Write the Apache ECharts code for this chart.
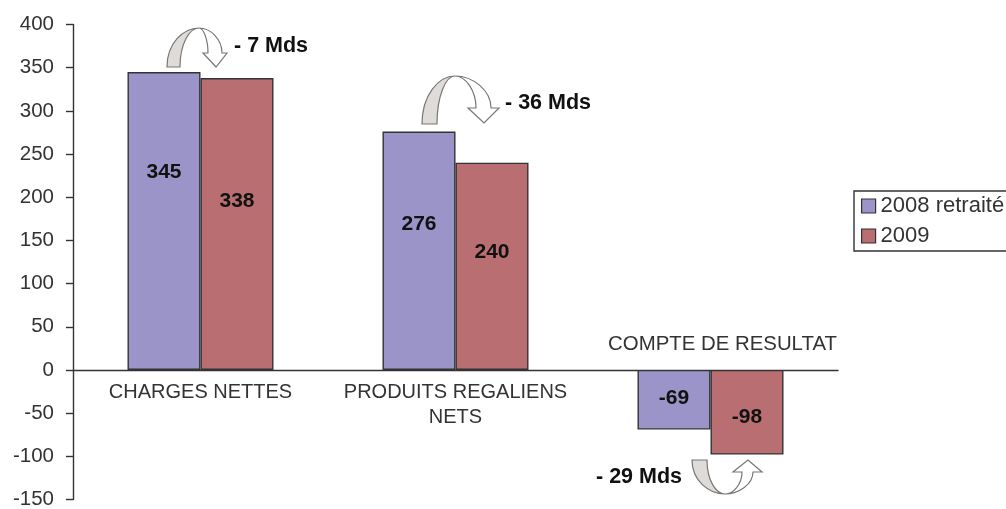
<!DOCTYPE html>
<html>
<head>
<meta charset="utf-8">
<style>html,body{margin:0;padding:0;background:#fff;overflow:hidden}#c{width:1006px;height:509px}</style>
<script src="https://cdn.jsdelivr.net/npm/echarts@6/dist/echarts.min.js"></script>
</head>
<body>
<div id="c"></div>
<script>
// Budget balance by heading, in billions of euros
const categories = ['CHARGES NETTES', 'PRODUITS REGALIENS\nNETS', 'COMPTE DE RESULTAT'];
const seriesNames = ['2008 retraité', '2009'];
const values2008 = [345, 276, -69];
const values2009 = [338, 240, -98];
const deltaTexts = ['- 7 Mds', '- 36 Mds', '- 29 Mds'];

// Hand-placed value labels: vertical shift from the centre of each bar
const labelShift2008 = [-49, -27, -2];
const labelShift2009 = [-23, -14, 5];

const FONT = '"Liberation Sans", Arial, sans-serif';
const TEXT = '#333';
const EDGE = '#333';

const AXIS_MIN = -150;
const AXIS_MAX = 400;
const PLOT_HEIGHT = 475;
// Category labels are laid out from the foot of the plot; this lifts them up to the zero line
const ZERO_LIFT = PLOT_HEIGHT * (0 - AXIS_MIN) / (AXIS_MAX - AXIS_MIN);

// Curved arrow between two bars: a white band ending in a head
echarts.graphic.registerShape('arrowHeadBand', echarts.graphic.extendShape({
  shape: { a: null },
  buildPath(ctx, shape) {
    const a = shape.a;
    const yh = a.apexY + (a.headY - a.apexY) * 0.45;
    ctx.moveTo(a.apexX, a.apexY);
    ctx.bezierCurveTo((a.shaftR + a.apexX) / 2, a.apexY, a.shaftR, yh, a.shaftR, a.headY);
    ctx.lineTo(a.headR, a.headY);
    ctx.lineTo(a.tipX, a.tipY);
    ctx.lineTo(a.headL, a.headY);
    ctx.lineTo(a.shaftL, a.headY);
    ctx.bezierCurveTo(a.shaftL, yh, (a.shaftL + a.apexX) / 2, a.apexY, a.apexX, a.apexY);
    ctx.closePath();
  }
}));

// The shaded band the arrow starts from
echarts.graphic.registerShape('arrowTailBand', echarts.graphic.extendShape({
  shape: { a: null },
  buildPath(ctx, shape) {
    const a = shape.a;
    const yc = a.apexY + (a.baseY - a.apexY) * 0.4;
    ctx.moveTo(a.bandL, a.baseY);
    ctx.bezierCurveTo(a.bandL, yc, (a.bandL + a.apexX) / 2, a.apexY, a.apexX, a.apexY);
    ctx.bezierCurveTo((a.bandR + a.apexX) / 2, a.apexY, a.bandR, yc, a.bandR, a.baseY);
    ctx.closePath();
  }
}));

const arrows = [
  { bandL: 167, bandR: 180, baseY: 67, apexX: 199, apexY: 28, shaftL: 208, shaftR: 222, headL: 203, headR: 227, headY: 53, tipX: 216, tipY: 67 },
  { bandL: 422, bandR: 437, baseY: 124, apexX: 455, apexY: 76, shaftL: 476, shaftR: 491, headL: 468, headR: 499, headY: 108, tipX: 484, tipY: 123 },
  { bandL: 692, bandR: 707, baseY: 460, apexX: 725, apexY: 494, shaftL: 742, shaftR: 753, headL: 733, headR: 762, headY: 472, tipX: 748, tipY: 460 }
];

const deltaAnchors = [
  { left: 234, top: 35 },
  { left: 505, top: 92 },
  { left: 596, top: 466 }
];

function arrowElements(a) {
  return [
    { type: 'arrowHeadBand', shape: { a }, style: { fill: '#fff', stroke: '#777', lineWidth: 1.2 }, z: 10 },
    { type: 'arrowTailBand', shape: { a }, style: { fill: '#dedbd8', stroke: '#777', lineWidth: 1.2 }, z: 11 }
  ];
}

function barSeries(name, values, shifts, color) {
  return {
    name, type: 'bar', barGap: 0, barWidth: 73,
    itemStyle: { color, borderColor: EDGE, borderWidth: 1.4 },
    data: values.map((v, i) => ({
      value: v,
      label: { show: true, position: 'inside', offset: [0, shifts[i]], formatter: String(v) }
    })),
    label: { color: '#111', fontFamily: FONT, fontSize: 21, fontWeight: 'bold' },
    z: 3
  };
}

const chart = echarts.init(document.getElementById('c'), null, { renderer: 'canvas' });
chart.setOption({
  animation: false,
  backgroundColor: '#fff',
  grid: { left: 73, top: 24.5, width: 765, height: PLOT_HEIGHT, containLabel: false, outerBoundsMode: 'none' },
  legend: {
    left: 854, top: 191, orient: 'vertical', itemGap: 8,
    itemWidth: 14, itemHeight: 14, icon: 'rect', selectedMode: false,
    padding: [4, 40, 4, 7], borderColor: EDGE, borderWidth: 1.4,
    itemStyle: { borderColor: EDGE, borderWidth: 1.2 },
    textStyle: { color: TEXT, fontFamily: FONT, fontSize: 22 },
    data: seriesNames
  },
  xAxis: [
    {
      type: 'category',
      data: categories.map((c, i) => (i < 2 ? c : '')),
      axisLine: { onZero: true, lineStyle: { color: EDGE, width: 1.4 } },
      axisTick: { length: 6, lineStyle: { color: EDGE, width: 1.4 } },
      axisLabel: { interval: 0, margin: 10 - ZERO_LIFT, color: TEXT, fontFamily: FONT, fontSize: 20, lineHeight: 25 }
    },
    {
      // The result heading sits above the axis, its bars hanging below zero
      type: 'category', position: 'bottom',
      data: categories.map((c, i) => (i === 2 ? c : '')),
      axisLine: { show: false, onZero: true },
      axisTick: { show: false },
      axisLabel: {
        interval: 0, inside: true, margin: 16 + ZERO_LIFT, padding: [0, 0, 0, 24],
        color: TEXT, fontFamily: FONT, fontSize: 20.4
      }
    }
  ],
  yAxis: {
    type: 'value', min: AXIS_MIN, max: AXIS_MAX, interval: 50,
    axisLine: { show: true, lineStyle: { color: EDGE, width: 1.4 } },
    axisTick: { show: true, length: 7, lineStyle: { color: EDGE, width: 1.4 } },
    splitLine: { show: false },
    axisLabel: { margin: 19, color: TEXT, fontFamily: FONT, fontSize: 20.5 }
  },
  series: [
    barSeries(seriesNames[0], values2008, labelShift2008, '#9a94c8'),
    barSeries(seriesNames[1], values2009, labelShift2009, '#b96f72')
  ],
  graphic: [
    ...arrows.flatMap(arrowElements),
    ...deltaTexts.map((t, i) => ({
      type: 'text', left: deltaAnchors[i].left, top: deltaAnchors[i].top,
      style: { text: t, fill: '#111', font: `bold 21.5px ${FONT}` }
    }))
  ]
});
</script>
</body>
</html>
